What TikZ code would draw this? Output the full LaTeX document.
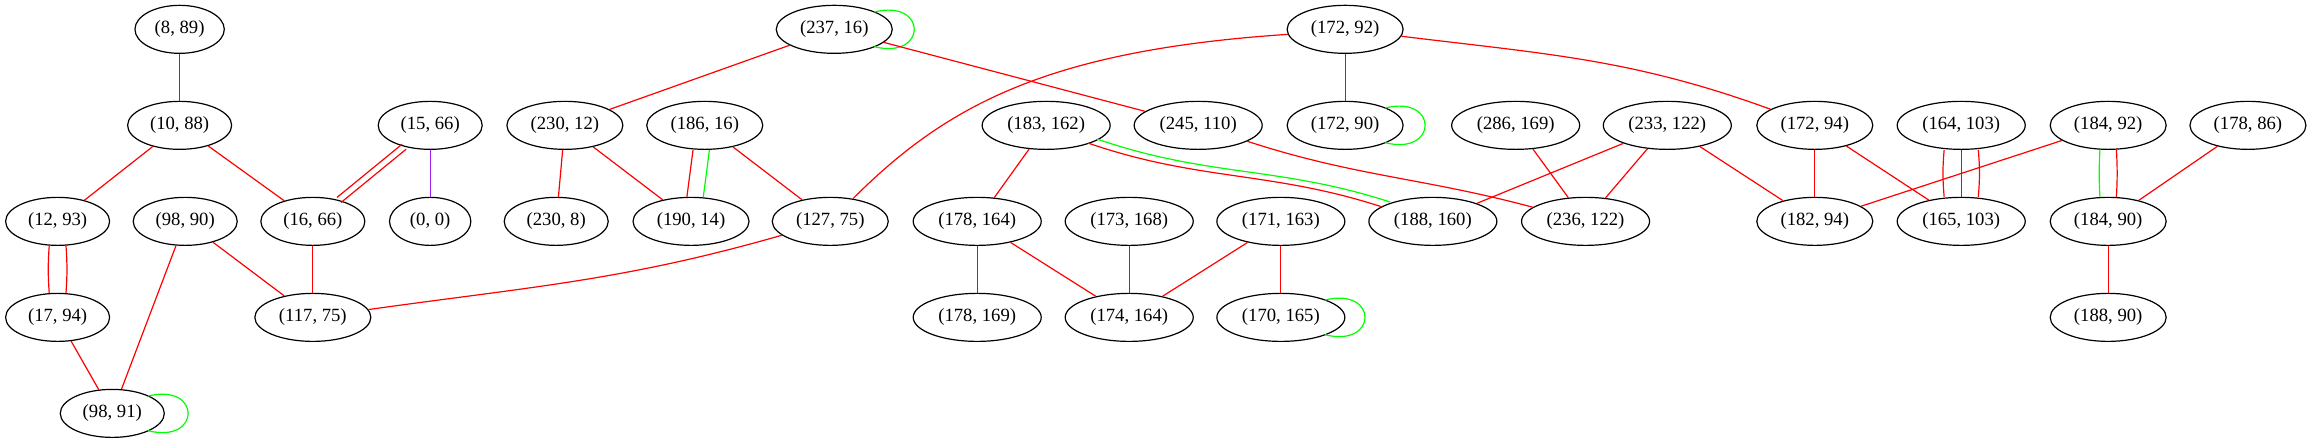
\documentclass[tikz,border=0pt]{standalone}
\usepackage{fontspec}
\setmainfont{Liberation Serif}
\usetikzlibrary{shapes.geometric,calc}
\definecolor{gvred}{rgb}{1,0,0}
\definecolor{gvgreen}{rgb}{0,1,0}
\definecolor{gvpurple}{HTML}{A020F0}
\tikzset{
  gv/.style={ellipse,draw=black,line width=0.9pt,minimum height=36pt,inner sep=0pt,font=\fontsize{14}{16}\selectfont},
  wa/.style={gv,minimum width=61pt},
  wb/.style={gv,minimum width=67pt},
  wc/.style={gv,minimum width=78pt},
  wd/.style={gv,minimum width=87pt},
  we/.style={gv,minimum width=96pt},
  re/.style={draw=gvred,line width=0.9pt},
  gr/.style={draw=gvgreen,line width=0.9pt},
  pu/.style={draw=gvpurple,line width=0.9pt},
}
\newcommand\myloop[2]{\draw[gr] ($(#1)+(#2*0.69,13)$) .. controls +(40,10) and +(40,-10) .. ($(#1)+(#2*0.69,-13)$);}
\begin{document}
\begin{tikzpicture}[x=1pt,y=1pt]
\useasboundingbox (0,0) rectangle (1733,-332);
% row 1
\node[wb] (n8_89) at (134.7,-22) {(8, 89)};
\node[wd] (n237_16) at (625.6,-22) {(237, 16)};
\node[wd] (n172_92) at (1008.7,-22) {(172, 92)};
% row 2
\node[wc] (n10_88) at (134.7,-94) {(10, 88)};
\node[wc] (n15_66) at (322.6,-94) {(15, 66)};
\node[wd] (n230_12) at (423.6,-94) {(230, 12)};
\node[wd] (n186_16) at (528.5,-94) {(186, 16)};
\node[we] (n183_162) at (784.5,-94) {(183, 162)};
\node[we] (n245_110) at (898.5,-94) {(245, 110)};
\node[wd] (n172_90) at (1008.7,-94) {(172, 90)};
\node[we] (n286_169) at (1136.6,-94) {(286, 169)};
\node[we] (n233_122) at (1250.3,-94) {(233, 122)};
\node[wd] (n172_94) at (1360.9,-94) {(172, 94)};
\node[we] (n164_103) at (1470.7,-94) {(164, 103)};
\node[wd] (n184_92) at (1580.9,-94) {(184, 92)};
\node[wd] (n178_86) at (1685.7,-94) {(178, 86)};
% row 3
\node[wc] (n12_93) at (43.2,-166) {(12, 93)};
\node[wc] (n98_90) at (138.9,-166) {(98, 90)};
\node[wc] (n16_66) at (234.6,-166) {(16, 66)};
\node[wa] (n0_0) at (322.6,-166) {(0, 0)};
\node[wc] (n230_8) at (417.1,-166) {(230, 8)};
\node[wd] (n190_14) at (518.2,-166) {(190, 14)};
\node[wd] (n127_75) at (622.6,-166) {(127, 75)};
\node[we] (n178_164) at (732.8,-166) {(178, 164)};
\node[we] (n173_168) at (846.8,-166) {(173, 168)};
\node[we] (n171_163) at (960.5,-166) {(171, 163)};
\node[we] (n188_160) at (1074.5,-166) {(188, 160)};
\node[we] (n236_122) at (1189,-166) {(236, 122)};
\node[wd] (n182_94) at (1360.9,-166) {(182, 94)};
\node[we] (n165_103) at (1470.7,-166) {(165, 103)};
\node[wd] (n184_90) at (1580.9,-166) {(184, 90)};
% row 4
\node[wc] (n17_94) at (43.2,-238) {(17, 94)};
\node[wd] (n117_75) at (234.6,-238) {(117, 75)};
\node[we] (n178_169) at (732.8,-238) {(178, 169)};
\node[we] (n174_164) at (846.8,-238) {(174, 164)};
\node[we] (n170_165) at (960.5,-238) {(170, 165)};
\node[wd] (n188_90) at (1580.9,-238) {(188, 90)};
% row 5
\node[wc] (n98_91) at (84.2,-310) {(98, 91)};

% edges
\draw[re] (n8_89) -- (n10_88);
\draw[re] (n10_88) -- (n12_93);
\draw[re] (n10_88) -- (n16_66);
\draw[re,transform canvas={shift={(1.5pt,-1.9pt)}}] (n15_66) -- (n16_66);
\draw[re,transform canvas={shift={(-1.5pt,1.9pt)}}] (n15_66) -- (n16_66);
\draw[pu] (n15_66) -- (n0_0);
\draw[re] ([xshift=-6.3pt]n12_93.south) to[bend right=4] ([xshift=-6.3pt]n17_94.north);
\draw[re] ([xshift=6.3pt]n12_93.south) to[bend left=4] ([xshift=6.3pt]n17_94.north);
\draw[re] (n98_90) -- (n117_75);
\draw[re] (n98_90) -- (n98_91);
\draw[re] (n16_66) -- (n117_75);
\draw[re] (n17_94) -- (n98_91);
\myloop{n98_91}{39}
\myloop{n237_16}{43.5}
\draw[re] (n237_16) -- (n230_12);
\draw[re] (n237_16) -- (n245_110);
\draw[re] (n230_12) -- (n230_8);
\draw[re] (n230_12) -- (n190_14);
\draw[re] ([xshift=-8.8pt]n186_16.south) -- ([xshift=-3.1pt]n190_14.north);
\draw[gr] ([xshift=3.5pt]n186_16.south) -- ([xshift=9.2pt]n190_14.north);
\draw[re] (n186_16) -- (n127_75);
\draw[re] (n127_75) to[out=196,in=8] (n117_75);
\draw[re] (n172_92.185) .. controls +(-180,-12) and +(70,70) .. (n127_75.45);
\draw[re] (n172_92) -- (n172_90);
\draw[re] (n172_92) to[out=-7,in=160] (n172_94);
\myloop{n172_90}{43.5}
\draw[re] (n183_162) -- (n178_164);
\draw[re] ($(n183_162)+(31.5,-13.3)$) to[out=-19,in=162] ($(n188_160)+(-38,10.8)$);
\draw[gr] ($(n183_162)+(38.3,-10.3)$) to[out=-19,in=162] ($(n188_160)+(-32,14.5)$);
\draw[re] (n245_110) to[out=-18,in=165] (n236_122);
\draw[re] (n286_169) -- (n236_122);
\draw[re] (n233_122) -- (n188_160);
\draw[re] (n233_122) -- (n236_122);
\draw[re] (n233_122) -- (n182_94);
\draw[re] (n172_94) -- (n182_94);
\draw[re] (n172_94) -- (n165_103);
\draw[re] ([xshift=-12.8pt]n164_103.south) to[bend right=5] ([xshift=-12.8pt]n165_103.north);
\draw[re] (n164_103) -- (n165_103);
\draw[re] ([xshift=12.8pt]n164_103.south) to[bend left=5] ([xshift=12.8pt]n165_103.north);
\draw[re] (n184_92) -- (n182_94);
\draw[gr] ([xshift=-6.2pt]n184_92.south) to[bend right=3] ([xshift=-6.2pt]n184_90.north);
\draw[re] ([xshift=6.2pt]n184_92.south) to[bend left=3] ([xshift=6.2pt]n184_90.north);
\draw[re] (n178_86) -- (n184_90);
\draw[re] (n184_90) -- (n188_90);
\draw[re] (n178_164) -- (n178_169);
\draw[re] (n178_164) -- (n174_164);
\draw[re] (n173_168) -- (n174_164);
\draw[re] (n171_163) -- (n174_164);
\draw[re] (n171_163) -- (n170_165);
\myloop{n170_165}{48}
\end{tikzpicture}
\end{document}
